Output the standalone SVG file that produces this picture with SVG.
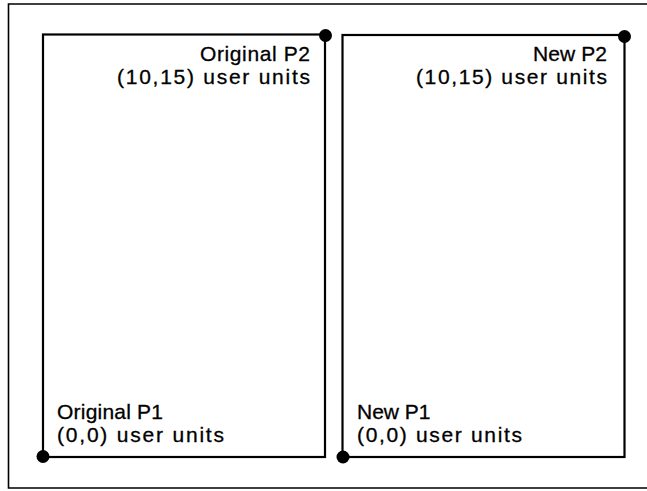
<svg xmlns="http://www.w3.org/2000/svg" width="647" height="491" viewBox="0 0 647 491">
<style>
.frame{fill:none;stroke:#000;stroke-width:1.6}
.box{fill:none;stroke:#000;stroke-width:2.2}
.dot{fill:#000}
.lbl{font-family:"Liberation Sans",Arial,sans-serif;font-size:21px;fill:#000;stroke:#000;stroke-width:0.3}
</style>
<rect width="647" height="491" fill="#fff"/>
<g id="frame">
<path class="frame" d="M647,4 H8.5 V488 H647"/>
</g>
<g id="original">
<rect class="box" x="43" y="34.5" width="282" height="422.5"/>
<circle class="dot" cx="325.5" cy="35.5" r="6.5"/>
<circle class="dot" cx="43" cy="456.5" r="6.5"/>
<text class="lbl" x="200" y="61" textLength="110" lengthAdjust="spacing">Original P2</text>
<text class="lbl" x="117" y="84" textLength="193" lengthAdjust="spacing">(10,15) user units</text>
<text class="lbl" x="57" y="419" textLength="106" lengthAdjust="spacing">Original P1</text>
<text class="lbl" x="57" y="442" textLength="167" lengthAdjust="spacing">(0,0) user units</text>
</g>
<g id="new">
<rect class="box" x="342.5" y="35" width="282" height="422"/>
<circle class="dot" cx="624.5" cy="36.5" r="6.5"/>
<circle class="dot" cx="343" cy="457" r="6.5"/>
<text class="lbl" x="533" y="61" textLength="74" lengthAdjust="spacing">New P2</text>
<text class="lbl" x="416" y="84" textLength="191" lengthAdjust="spacing">(10,15) user units</text>
<text class="lbl" x="357" y="419">New P1</text>
<text class="lbl" x="357" y="442" textLength="165" lengthAdjust="spacing">(0,0) user units</text>
</g>
<g id="connectors"/>
</svg>
